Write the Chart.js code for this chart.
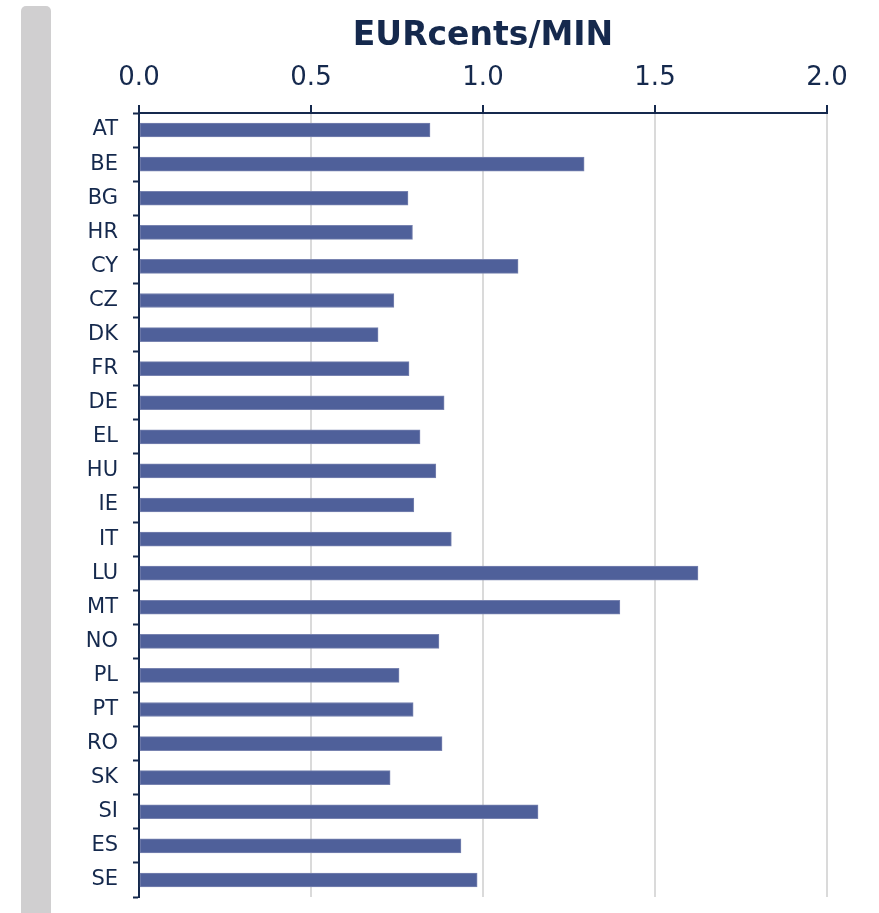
<!DOCTYPE html>
<html>
<head>
<meta charset="utf-8">
<script src="https://cdn.jsdelivr.net/npm/chart.js@4"></script>
<style>
    body { margin: 0; background: #fff; }
    #wrap { position: relative; width: 879px; height: 913px; overflow: hidden; }
    #band { position: absolute; left: 21px; top: 6px; width: 30px; height: 920px; background: #d0cfd0; border-radius: 5px 5px 0 0; }
    #chartBox { position: absolute; left: 0; top: 0; width: 879px; height: 913px; }
</style>
</head>
<body>
<div id="wrap">
    <div id="band"></div>
    <div id="chartBox"><canvas id="priceChart"></canvas></div>
</div>
<script>
const countries = ['AT', 'BE', 'BG', 'HR', 'CY', 'CZ', 'DK', 'FR', 'DE', 'EL', 'HU', 'IE',
    'IT', 'LU', 'MT', 'NO', 'PL', 'PT', 'RO', 'SK', 'SI', 'ES', 'SE'];
const pricePerMin = [0.846, 1.294, 0.782, 0.795, 1.102, 0.741, 0.695, 0.785, 0.887, 0.817, 0.863, 0.799,
    0.908, 1.625, 1.398, 0.872, 0.756, 0.797, 0.881, 0.730, 1.160, 0.936, 0.983];
const axisTitle = 'EURcents/MIN';

const navy = '#15294d';

const ctx = document.getElementById('priceChart').getContext('2d');
new Chart(ctx, {
    type: 'bar',
    data: {
        labels: countries,
        datasets: [{
            data: pricePerMin,
            backgroundColor: '#4f609a',
            borderColor: '#7883b0',
            borderWidth: 1,
            borderSkipped: false,
            barThickness: 14
        }]
    },
    options: {
        indexAxis: 'y',
        responsive: true,
        maintainAspectRatio: false,
        animation: false,
        layout: {
            padding: { left: 0, right: 52, top: 0, bottom: 16 }
        },
        plugins: {
            legend: { display: false },
            tooltip: { enabled: false },
            title: {
                display: true,
                text: axisTitle,
                fullSize: false,
                color: navy,
                font: { family: 'DejaVu Sans', size: 33, weight: 'bold', lineHeight: 1.2 },
                padding: { top: 17, bottom: 1 }
            }
        },
        scales: {
            x: {
                position: 'top',
                min: 0,
                max: 2,
                ticks: {
                    stepSize: 0.5,
                    color: navy,
                    padding: 11,
                    font: { family: 'DejaVu Sans', size: 26 },
                    callback: function(value) {
                        return Number(value).toFixed(1);
                    }
                },
                grid: {
                    color: '#dadada',
                    lineWidth: 2,
                    tickColor: navy,
                    tickLength: 8,
                    tickWidth: 2
                },
                border: { color: navy, width: 2 },
                afterFit: function(scale) {
                    scale.height = 55.4;
                }
            },
            y: {
                ticks: {
                    color: navy,
                    padding: 15,
                    font: { family: 'DejaVu Sans', size: 21 }
                },
                grid: {
                    drawOnChartArea: false,
                    tickColor: navy,
                    tickLength: 6,
                    tickWidth: 2
                },
                border: { color: navy, width: 2 },
                afterFit: function(scale) {
                    // labels sit beside the ticks, so no extra room above or below the axis
                    scale.width = 139;
                    scale.paddingTop = 0;
                    scale.paddingBottom = 0;
                }
            }
        }
    }
});
</script>
</body>
</html>
